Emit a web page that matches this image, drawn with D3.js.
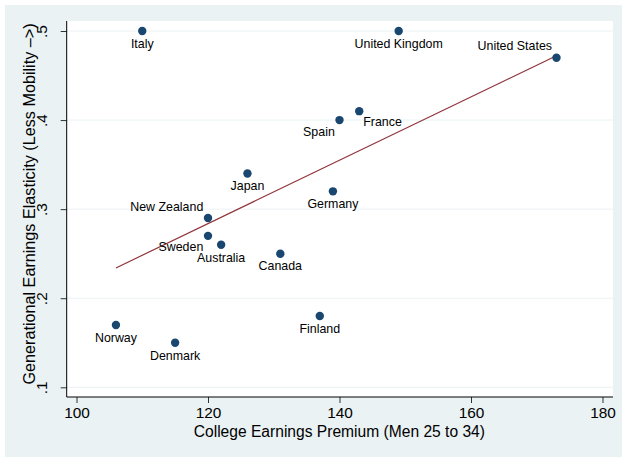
<html>
<head>
<style>
  body { margin: 0; background: #fff; }
  svg { display: block; }
  text { font-family: "Liberation Sans", Arial, sans-serif; fill: #000; }
</style>
</head>
<body>
<script src="https://d3js.org/d3.v7.min.js"></script>
<script>
// data
var countries = ["Italy", "United Kingdom", "United States", "France", "Spain", "Japan", "Germany",
                 "New Zealand", "Sweden", "Australia", "Canada", "Finland", "Norway", "Denmark"];
var premium = [110, 149, 173, 143, 140, 126, 139, 120, 120, 122, 131, 137, 106, 115];
var elasticity = [0.50, 0.50, 0.47, 0.41, 0.40, 0.34, 0.32, 0.29, 0.27, 0.26, 0.25, 0.18, 0.17, 0.15];
var xTicks = [100, 120, 140, 160, 180];
var yTicks = [0.1, 0.2, 0.3, 0.4, 0.5];
// marker label clock positions (stata style)
var labelPos = [6, 6, 11, 4, 8, 6, 6, 10, 8, 6, 6, 6, 6, 6];

var width = 622, height = 457;
var plot = {left: 66.7, right: 613, top: 21, bottom: 397};

var svg = d3.select("body").append("svg")
    .attr("width", width)
    .attr("height", height);

// graph region
svg.append("rect")
    .attr("x", 5).attr("y", 5)
    .attr("width", width - 5).attr("height", height - 5)
    .attr("fill", "#eaf2f3");
svg.append("rect")
    .attr("x", plot.left).attr("y", plot.top)
    .attr("width", plot.right - plot.left).attr("height", plot.bottom - plot.top)
    .attr("fill", "#fff");

var x = d3.scaleLinear().domain([100, 180]).range([76.5, 602.5]);
var y = d3.scaleLinear().domain([0.1, 0.5]).range([387.3, 31]);

// grid
svg.append("g").selectAll("line")
    .data(yTicks)
    .enter().append("line")
    .attr("x1", plot.left).attr("x2", plot.right)
    .attr("y1", d => y(d)).attr("y2", d => y(d))
    .attr("stroke", "#eaf2f3").attr("stroke-width", 1);

// axes
var fmt = d => d3.format(".1f")(d).replace(/^0/, "");
var xAxis = svg.append("g")
    .attr("transform", `translate(0,${plot.bottom})`)
    .call(d3.axisBottom(x).tickValues(xTicks).tickSize(6).tickPadding(4));
xAxis.select(".domain").remove();
xAxis.selectAll("text").style("font-size", "15.4px").attr("font-family", null);
xAxis.selectAll("line").attr("stroke", "#333");

var yAxis = svg.append("g")
    .attr("transform", `translate(${plot.left},0)`)
    .call(d3.axisLeft(y).tickValues(yTicks).tickFormat(fmt).tickSize(6));
yAxis.select(".domain").remove();
yAxis.selectAll("line").attr("stroke", "#333");
yAxis.selectAll("text")
    .attr("x", null).attr("dy", null)
    .attr("text-anchor", "middle")
    .attr("transform", "translate(-20,0) rotate(-90)")
    .style("font-size", "15.4px");

svg.append("line")
    .attr("x1", plot.left).attr("x2", plot.right)
    .attr("y1", plot.bottom).attr("y2", plot.bottom)
    .attr("stroke", "#000");
svg.append("line")
    .attr("x1", plot.left).attr("x2", plot.left)
    .attr("y1", plot.top).attr("y2", plot.bottom)
    .attr("stroke", "#000");

// axis titles
svg.append("text")
    .attr("x", (plot.left + plot.right) / 2 - 0.5).attr("y", 437)
    .attr("text-anchor", "middle")
    .style("font-size", "15.6px")
    .text("College Earnings Premium (Men 25 to 34)");
svg.append("text")
    .attr("transform", "translate(35,204) rotate(-90)")
    .attr("text-anchor", "middle")
    .style("font-size", "16.2px")
    .text("Generational Earnings Elasticity (Less Mobility \u2013>)");

// linear fit
var pts = premium.map((p, i) => ({x: p, y: elasticity[i], name: countries[i], pos: labelPos[i]}));
var mx = d3.mean(premium), my = d3.mean(elasticity);
var slope = d3.sum(pts, d => (d.x - mx) * (d.y - my)) / d3.sum(pts, d => (d.x - mx) * (d.x - mx));
var ext = d3.extent(premium);
var fit = d3.line().x(d => x(d)).y(d => y(my + slope * (d - mx)));
svg.append("path")
    .attr("d", fit(ext))
    .attr("fill", "none")
    .attr("stroke", "#90353b")
    .attr("stroke-width", 1.2);

// markers
svg.append("g").selectAll("circle")
    .data(pts)
    .enter().append("circle")
    .attr("cx", d => x(d.x))
    .attr("cy", d => y(d.y))
    .attr("r", 4.2)
    .attr("fill", "#1a476f");

// marker labels
var clock = {
  4: {dx: 4, dy: 14.5, anchor: "start"},
  6: {dx: 0, dy: 16.8, anchor: "middle"},
  8: {dx: -4.7, dy: 15.5, anchor: "end"},
  10: {dx: -4.7, dy: -6.6, anchor: "end"},
  11: {dx: -4.5, dy: -7.6, anchor: "end"}
};
svg.append("g").selectAll("text")
    .data(pts)
    .enter().append("text")
    .attr("x", d => x(d.x) + clock[d.pos].dx)
    .attr("y", d => y(d.y) + clock[d.pos].dy)
    .attr("text-anchor", d => clock[d.pos].anchor)
    .style("font-size", "12.4px")
    .text(d => d.name);
</script>
</body>
</html>
